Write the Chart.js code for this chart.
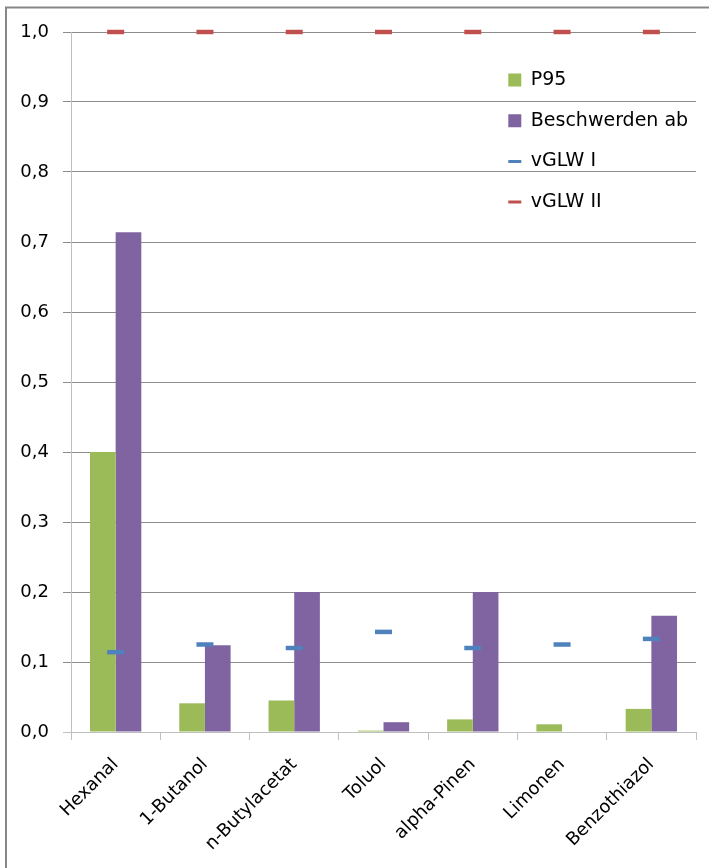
<!DOCTYPE html>
<html>
<head>
<meta charset="utf-8">
<script src="https://cdn.jsdelivr.net/npm/chart.js@4/dist/chart.umd.min.js"></script>
<style>
  html, body { margin: 0; padding: 0; background: #fff; }
  canvas { display: block; }
</style>
</head>
<body>
<canvas id="chart" width="709" height="868"></canvas>
<script>
const substances = ['Hexanal', '1-Butanol', 'n-Butylacetat', 'Toluol', 'alpha-Pinen', 'Limonen', 'Benzothiazol'];
const p95 = [0.400, 0.041, 0.045, 0.002, 0.018, 0.011, 0.033];
const complaints = [0.714, 0.124, 0.200, 0.014, 0.200, null, 0.166];
const vglw1 = [0.114, 0.125, 0.120, 0.143, 0.120, 0.125, 0.133];
const vglw2 = [1.0, 1.0, 1.0, 1.0, 1.0, 1.0, 1.0];

const FONT = 'DejaVu Sans';

// grey frame around the whole chart, runs off the right and bottom edge
const frame = {
  id: 'frame',
  beforeDraw(chart) {
    const ctx = chart.ctx;
    ctx.save();
    ctx.fillStyle = '#fff';
    ctx.fillRect(0, 0, chart.width, chart.height);
    ctx.strokeStyle = '#878787';
    ctx.lineWidth = 2;
    ctx.strokeRect(6, 7.5, chart.width + 20, chart.height + 20);
    ctx.restore();
  }
};

// put the legend in the upper right of the plot
const legendSpot = {
  id: 'legendSpot',
  afterLayout(chart) {
    const lg = chart.legend;
    if (!lg) return;
    lg.left = 486.6;
    lg.top = 48.8;
    lg.bottom = 868;
  }
};

function dashSet(label, data, color) {
  return {
    type: 'line',
    label,
    data,
    order: 0,
    clip: false,
    showLine: false,
    borderColor: color,
    backgroundColor: color,
    pointStyle: 'line',
    pointRadius: 8.5,
    pointHoverRadius: 8.5,
    pointBorderWidth: 4.5,
    pointBorderColor: color
  };
}

new Chart(document.getElementById('chart'), {
  type: 'bar',
  data: {
    labels: substances,
    datasets: [
      { label: 'P95', data: p95, backgroundColor: '#9BBB59', order: 1 },
      { label: 'Beschwerden ab', data: complaints, backgroundColor: '#8064A2', order: 1 },
      dashSet('vGLW I', vglw1, '#4F81BD'),
      dashSet('vGLW II', vglw2, '#C0504D')
    ]
  },
  options: {
    responsive: false,
    animation: false,
    events: [],
    layout: { padding: { top: 32, right: 12, bottom: 0, left: 0 } },
    datasets: {
      bar: { categoryPercentage: 0.575, barPercentage: 1 }
    },
    plugins: {
      tooltip: { enabled: false },
      legend: {
        position: 'chartArea',
        align: 'start',
        labels: {
          font: { family: FONT, size: 19 },
          color: '#000',
          usePointStyle: true,
          boxHeight: 13,
          pointStyleWidth: 13,
          padding: 21.7,
          sort: (a, b) => a.datasetIndex - b.datasetIndex,
          generateLabels(chart) {
            const items = Chart.defaults.plugins.legend.labels.generateLabels(chart);
            return items.map(it => {
              const ds = chart.data.datasets[it.datasetIndex];
              if (ds.type === 'line') {
                it.pointStyle = 'line';
                it.strokeStyle = ds.borderColor;
                it.lineWidth = 3;
              } else {
                it.pointStyle = 'rect';
                it.fillStyle = ds.backgroundColor;
                it.strokeStyle = ds.backgroundColor;
                it.lineWidth = 0;
              }
              return it;
            });
          }
        }
      }
    },
    scales: {
      x: {
        afterFit(scale) { scale.height = 136; },
        grid: {
          drawOnChartArea: false,
          color: '#BFBFBF',
          tickLength: 8
        },
        border: { color: '#BFBFBF', width: 1 },
        ticks: {
          font: { family: FONT, size: 18 },
          color: '#000',
          minRotation: 45,
          maxRotation: 45,
          autoSkip: false,
          labelOffset: 0,
          padding: 14
        }
      },
      y: {
        min: 0,
        max: 1,
        afterFit(scale) { scale.width = 71; },
        grid: {
          color: ctx => (ctx.tick && ctx.tick.value === 0) ? '#BFBFBF' : '#8C8C8C',
          tickLength: 8
        },
        border: { color: '#BFBFBF', width: 1 },
        ticks: {
          stepSize: 0.1,
          font: { family: FONT, size: 18 },
          color: '#000',
          padding: 14,
          callback: v => v.toFixed(1).replace('.', ',')
        }
      }
    }
  },
  plugins: [frame, legendSpot]
});
</script>
</body>
</html>
